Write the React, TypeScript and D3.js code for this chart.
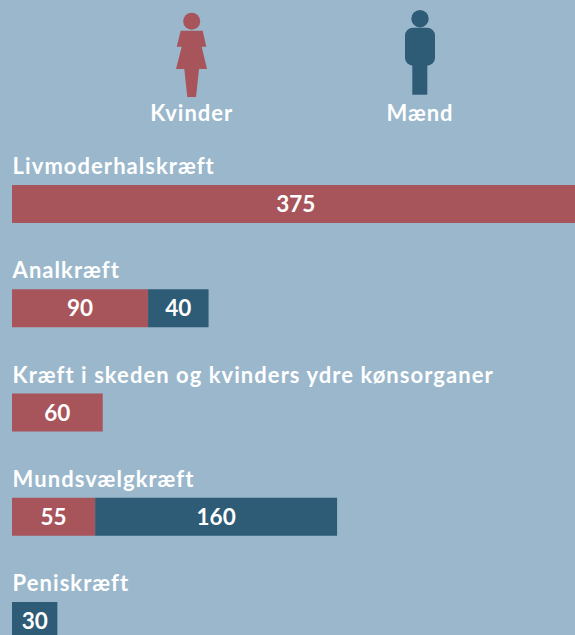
import React from "react";
import * as d3 from "d3";

const categories = ["Livmoderhalskræft", "Analkræft", "Kræft i skeden og kvinders ydre kønsorganer", "Mundsvælgkræft", "Peniskræft"];
const womenValues = [375, 90, 60, 55, 0];
const menValues = [0, 40, 0, 160, 30];
const legendLabels = ["Kvinder", "Mænd"];

const RED = "#A8545B";
const BLUE = "#2E5B75";
const BG = "#9AB7CC";
const FONT = "Lato, sans-serif";

const x = d3.scaleLinear().domain([0, 375]).range([12, 579]);
const y = d3.scalePoint<string>().domain(categories).range([185, 602]);
const barH = 38;

const womanPath = d3.path();
[[180.7, 30.7], [202.7, 30.7], [206.3, 46.7], [201.7, 46.7], [207, 69], [199, 69], [196, 97], [187.3, 97], [184.3, 69], [176, 69], [181.7, 46.7], [176.7, 46.7]].forEach(([a, b], i) =>
  i === 0 ? womanPath.moveTo(a, b) : womanPath.lineTo(a, b));
womanPath.closePath();

export default function App() {
  return (
    <svg width={575} height={635} viewBox="0 0 575 635" style={{ position: "fixed", left: 0, top: 0, background: BG, display: "block" }} fontFamily={FONT}>
      <rect width={575} height={635} fill={BG} />
      <circle cx={191.7} cy={21.3} r={8.5} fill={RED} />
      <path d={womanPath.toString()} fill={RED} />
      <circle cx={420} cy={18.7} r={8.7} fill={BLUE} />
      <rect x={405} y={27.7} width={30} height={38} rx={8} fill={BLUE} />
      <rect x={412.3} y={60} width={15} height={34.7} fill={BLUE} />
      <text x={191.8} y={121} textAnchor="middle" fontSize={22} fontWeight={700} fill="#fff" style={{ letterSpacing: 1 }}>{legendLabels[0]}</text>
      <text x={420} y={121} textAnchor="middle" fontSize={22} fontWeight={700} fill="#fff" style={{ letterSpacing: 0.9 }}>{legendLabels[1]}</text>
      {categories.map((c, i) => {
        const top = y(c)!;
        const w = womenValues[i];
        const m = menValues[i];
        return (
          <g key={c}>
            <text x={12.6} y={top - 11} fontSize={22} fontWeight={700} fill="#fff" style={{ letterSpacing: 1.05 }}>{c}</text>
            {w > 0 && <rect x={x(0)} y={top} width={x(w) - x(0)} height={barH} fill={RED} />}
            {m > 0 && <rect x={x(w)} y={top} width={x(w + m) - x(w)} height={barH} fill={BLUE} />}
            {w > 0 && <text x={w === 375 ? 295.8 : (x(0) + x(w)) / 2} y={top + 27} textAnchor="middle" fontSize={22.5} fontWeight={700} fill="#fff">{w}</text>}
            {m > 0 && <text x={(x(w) + x(w + m)) / 2} y={top + 27} textAnchor="middle" fontSize={22.5} fontWeight={700} fill="#fff">{m}</text>}
          </g>
        );
      })}
    </svg>
  );
}
